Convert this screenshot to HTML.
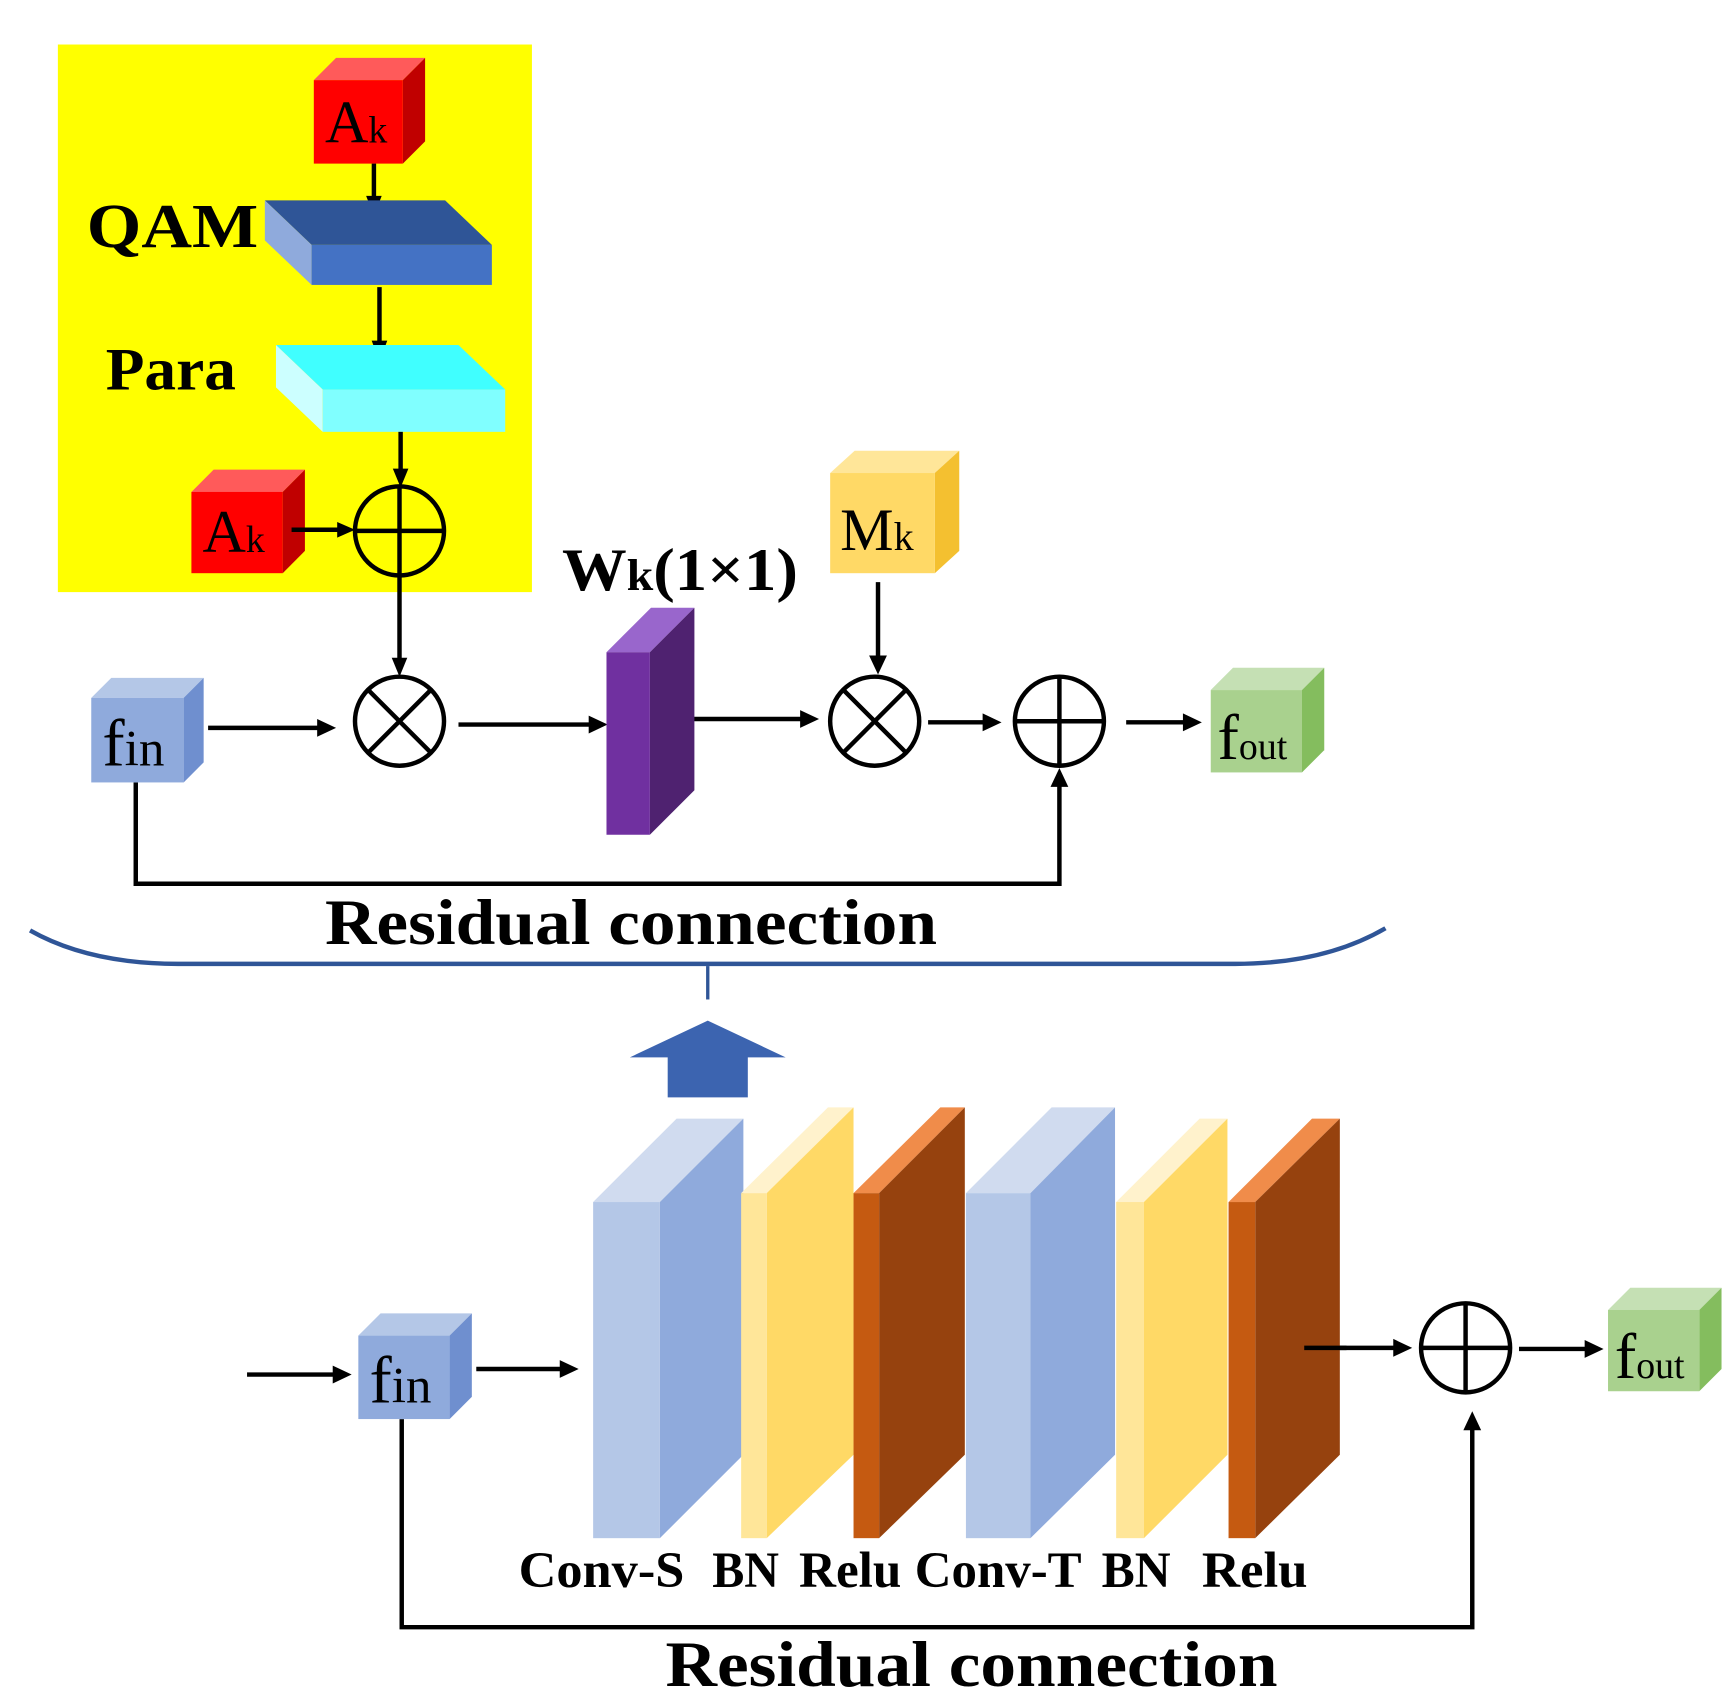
<!DOCTYPE html>
<html><head><meta charset="utf-8"><style>
html,body{margin:0;padding:0;background:#fff;}
svg{display:block;}
text{font-family:"Liberation Serif",serif;}
</style></head><body>
<svg width="1736" height="1704" viewBox="0 0 1560 1531" preserveAspectRatio="none" xmlns="http://www.w3.org/2000/svg">
<rect width="1560" height="1531" fill="#fff"/>
<rect x="52" y="40" width="426" height="492" fill="#ffff00"/>

<!-- Ak top -->
<polygon points="282,72 302,52 382,52 362,72" fill="#ff5a5a"/>
<polygon points="362,72 382,52 382,127 362,147" fill="#c00000"/>
<rect x="282" y="72" width="80" height="75" fill="#ff0000"/>
<text x="292" y="128" font-size="54">A<tspan font-size="34">k</tspan></text>

<line x1="336" y1="147" x2="336" y2="178" stroke="#000" stroke-width="4"/>
<polygon points="329,176 343,176 336,194" fill="#000"/>

<!-- QAM -->
<polygon points="238,180 400,180 442,220 280,220" fill="#2f5597"/>
<polygon points="238,180 280,220 280,256 238,216" fill="#8faadc"/>
<rect x="280" y="220" width="162" height="36" fill="#4472c4"/>
<text x="78" y="222" font-size="56" font-weight="bold" textLength="154" lengthAdjust="spacingAndGlyphs">QAM</text>

<line x1="341" y1="258" x2="341" y2="308" stroke="#000" stroke-width="4"/>
<polygon points="334,306 348,306 341,325" fill="#000"/>

<!-- Para -->
<polygon points="248,310 412,310 454,350 290,350" fill="#40ffff"/>
<polygon points="248,310 290,350 290,388 248,348" fill="#ccffff"/>
<rect x="290" y="350" width="164" height="38" fill="#80ffff"/>
<text x="95" y="350" font-size="54" font-weight="bold" textLength="117" lengthAdjust="spacingAndGlyphs">Para</text>

<line x1="360" y1="388" x2="360" y2="422" stroke="#000" stroke-width="4"/>
<polygon points="353,421 367,421 360,438" fill="#000"/>

<!-- Ak 2 -->
<polygon points="172,442 192,422 274,422 254,442" fill="#ff5a5a"/>
<polygon points="254,442 274,422 274,495 254,515" fill="#c00000"/>
<rect x="172" y="442" width="82" height="73" fill="#ff0000"/>
<text x="182" y="496" font-size="54">A<tspan font-size="34">k</tspan></text>
<line x1="262" y1="476" x2="306" y2="476" stroke="#000" stroke-width="4"/>
<polygon points="303,469 303,483 319,476" fill="#000"/>

<g stroke="#000" stroke-width="4" fill="none">
<circle cx="359" cy="477" r="40"/>
<line x1="319" y1="477" x2="399" y2="477"/><line x1="359" y1="437" x2="359" y2="517"/>
<line x1="359" y1="517" x2="359" y2="594"/>
<circle cx="359" cy="648" r="40"/>
<line x1="331" y1="620" x2="387" y2="676"/><line x1="387" y1="620" x2="331" y2="676"/>
<circle cx="786" cy="648" r="40"/>
<line x1="758" y1="620" x2="814" y2="676"/><line x1="814" y1="620" x2="758" y2="676"/>
<circle cx="952" cy="648" r="40"/>
<line x1="912" y1="648" x2="992" y2="648"/><line x1="952" y1="608" x2="952" y2="688"/>
<line x1="187" y1="654" x2="288" y2="654"/>
<line x1="412" y1="651" x2="532" y2="651"/>
<line x1="610" y1="646" x2="722" y2="646"/>
<line x1="789" y1="523" x2="789" y2="592"/>
<line x1="834" y1="649" x2="886" y2="649"/>
<line x1="1012" y1="649" x2="1066" y2="649"/>
<polyline points="122,703 122,794 952,794 952,704"/>
</g>
<polygon points="352,591 366,591 359,608" fill="#000"/>
<polygon points="285,646 285,662 302,654" fill="#000"/>
<polygon points="529,643 529,659 546,651" fill="#000"/>
<polygon points="719,638 719,654 736,646" fill="#000"/>
<polygon points="781,589 797,589 789,606" fill="#000"/>
<polygon points="883,641 883,657 900,649" fill="#000"/>
<polygon points="1063,641 1063,657 1080,649" fill="#000"/>
<polygon points="944,707 960,707 952,690" fill="#000"/>

<!-- fin -->
<polygon points="82,627 100,609 183,609 165,627" fill="#b4c7e7"/>
<polygon points="165,627 183,609 183,685 165,703" fill="#6f8fcf"/>
<rect x="82" y="627" width="83" height="76" fill="#8faadc"/>
<text x="92" y="688" font-size="60">f<tspan font-size="46">in</tspan></text>

<!-- purple -->
<polygon points="545,586 585,546 624,546 584,586" fill="#9966cc"/>
<polygon points="584,586 624,546 624,710 584,750" fill="#4f2270"/>
<rect x="545" y="586" width="39" height="164" fill="#7030a0"/>
<text x="505" y="530" font-size="54" font-weight="bold" textLength="212" lengthAdjust="spacingAndGlyphs">W<tspan font-size="40">k</tspan>(1×1)</text>

<!-- Mk -->
<polygon points="746,425 768,405 862,405 840,425" fill="#ffe699"/>
<polygon points="840,425 862,405 862,495 840,515" fill="#f4c030"/>
<rect x="746" y="425" width="94" height="90" fill="#ffd966"/>
<text x="755" y="494" font-size="54">M<tspan font-size="36">k</tspan></text>

<!-- fout -->
<polygon points="1088,620 1108,600 1190,600 1170,620" fill="#c5e0b4"/>
<polygon points="1170,620 1190,600 1190,674 1170,694" fill="#84bd5e"/>
<rect x="1088" y="620" width="82" height="74" fill="#a9d18e"/>
<text x="1094" y="682" font-size="58">f<tspan font-size="34">out</tspan></text>

<text x="292" y="848" font-size="58" font-weight="bold" textLength="550" lengthAdjust="spacingAndGlyphs">Residual connection</text>

<path d="M27,836 Q80,866 160,866 L1110,866 Q1190,866 1245,834" stroke="#2f5597" stroke-width="4" fill="none"/>
<line x1="636" y1="868" x2="636" y2="898" stroke="#2f5597" stroke-width="3"/>
<polygon points="566,950 636,917 706,950 672,950 672,986 600,986 600,950" fill="#3c64b0"/>

<!-- bottom -->
<g stroke="#000" stroke-width="4" fill="none">
<line x1="222" y1="1235" x2="302" y2="1235"/>
<line x1="428" y1="1230" x2="506" y2="1230"/>
<line x1="1172" y1="1211" x2="1255" y2="1211"/>
<circle cx="1317" cy="1211" r="40"/>
<line x1="1277" y1="1211" x2="1357" y2="1211"/><line x1="1317" y1="1171" x2="1317" y2="1251"/>
<line x1="1365" y1="1212" x2="1427" y2="1212"/>
<polyline points="361,1275 361,1462 1323,1462 1323,1282"/>
</g>
<polygon points="299,1227 299,1243 316,1235" fill="#000"/>
<polygon points="503,1222 503,1238 520,1230" fill="#000"/>
<polygon points="1252,1203 1252,1219 1269,1211" fill="#000"/>
<polygon points="1424,1204 1424,1220 1441,1212" fill="#000"/>
<polygon points="1315,1285 1331,1285 1323,1268" fill="#000"/>

<polygon points="322,1200 342,1180 424,1180 404,1200" fill="#b4c7e7"/>
<polygon points="404,1200 424,1180 424,1255 404,1275" fill="#6f8fcf"/>
<rect x="322" y="1200" width="82" height="75" fill="#8faadc"/>
<text x="332" y="1260" font-size="60">f<tspan font-size="46">in</tspan></text>

<!-- layers -->
<polygon points="533,1080 608,1005 668,1005 593,1080" fill="#d0dbef"/>
<polygon points="593,1080 668,1005 668,1307 593,1382" fill="#8faadc"/>
<rect x="533" y="1080" width="60" height="302" fill="#b4c7e7"/>

<polygon points="666,1072 744,995 767,995 689,1072" fill="#fff2cc"/>
<polygon points="689,1072 767,995 767,1307 689,1382" fill="#ffd966"/>
<rect x="666" y="1072" width="23" height="310" fill="#ffe699"/>

<polygon points="767,1072 845,995 867,995 790,1072" fill="#f08c4a"/>
<polygon points="790,1072 867,995 867,1307 790,1382" fill="#96420e"/>
<rect x="767" y="1072" width="23" height="310" fill="#c55a11"/>

<polygon points="868,1072 945,995 1002,995 926,1072" fill="#d0dbef"/>
<polygon points="926,1072 1002,995 1002,1307 926,1382" fill="#8faadc"/>
<rect x="868" y="1072" width="58" height="310" fill="#b4c7e7"/>

<polygon points="1003,1080 1078,1005 1103,1005 1028,1080" fill="#fff2cc"/>
<polygon points="1028,1080 1103,1005 1103,1307 1028,1382" fill="#ffd966"/>
<rect x="1003" y="1080" width="25" height="302" fill="#ffe699"/>

<polygon points="1104,1080 1179,1005 1204,1005 1128,1080" fill="#f08c4a"/>
<polygon points="1128,1080 1204,1005 1204,1307 1128,1382" fill="#96420e"/>
<rect x="1104" y="1080" width="24" height="302" fill="#c55a11"/>
<line x1="1172" y1="1211" x2="1210" y2="1211" stroke="#000" stroke-width="4"/>

<g font-size="46" font-weight="bold">
<text x="466" y="1426" textLength="149" lengthAdjust="spacingAndGlyphs">Conv-S</text>
<text x="640" y="1426" textLength="60" lengthAdjust="spacingAndGlyphs">BN</text>
<text x="718" y="1426" textLength="92" lengthAdjust="spacingAndGlyphs">Relu</text>
<text x="822" y="1426" textLength="150" lengthAdjust="spacingAndGlyphs">Conv-T</text>
<text x="990" y="1426" textLength="62" lengthAdjust="spacingAndGlyphs">BN</text>
<text x="1080" y="1426" textLength="95" lengthAdjust="spacingAndGlyphs">Relu</text>
</g>

<polygon points="1445,1177 1465,1157 1547,1157 1527,1177" fill="#c5e0b4"/>
<polygon points="1527,1177 1547,1157 1547,1230 1527,1250" fill="#84bd5e"/>
<rect x="1445" y="1177" width="82" height="73" fill="#a9d18e"/>
<text x="1451" y="1238" font-size="58">f<tspan font-size="34">out</tspan></text>

<text x="598" y="1515" font-size="58" font-weight="bold" textLength="550" lengthAdjust="spacingAndGlyphs">Residual connection</text>
</svg>
</body></html>
